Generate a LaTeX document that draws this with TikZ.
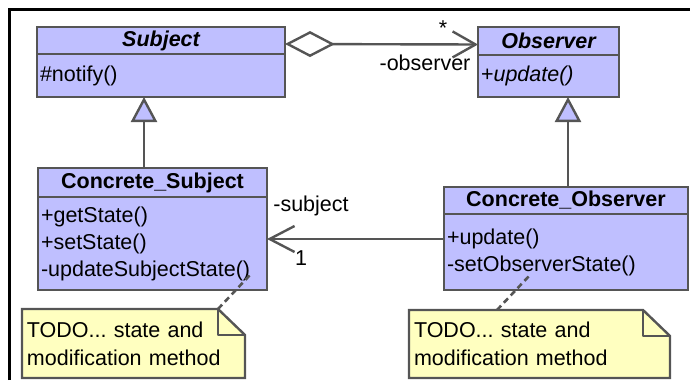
\documentclass[tikz,border=0pt]{standalone}
\usepackage{fontspec}
\setmainfont{Liberation Sans}
\usepackage{xcolor}
\usetikzlibrary{arrows.meta, positioning, backgrounds}
\definecolor{UML_Blue}{HTML}{BFBFFF}
\definecolor{UML_Note}{HTML}{FFFFC0}
\definecolor{UML_Line}{HTML}{555555}
\frenchspacing

\begin{document}
\begin{tikzpicture}[
    x=1pt, y=-1pt,
    umlfont/.style={font=\fontsize{21.5}{27}\selectfont},
    classhead/.style={draw=UML_Line, fill=UML_Blue, line width=2.4pt, inner sep=0pt, outer sep=0pt, anchor=north west, font=\fontsize{21.5}{27}\selectfont\bfseries},
    classbody/.style={umlfont, draw=UML_Line, fill=UML_Blue, line width=2.4pt, inner xsep=3pt, inner ysep=0pt, outer sep=0pt, anchor=north west, align=left},
    notebox/.style={font=\fontsize{21.5}{28}\selectfont, inner xsep=5pt, inner ysep=0pt, outer sep=0pt, anchor=north west, align=left},
    notelink/.style={draw=UML_Line, line width=2.6pt, dash pattern=on 6pt off 4pt},
    umlline/.style={draw=UML_Line, line width=2.4pt},
    inherit/.style={umlline, -{Triangle[length=25pt, width=26pt, fill=UML_Blue]}},
    lbl/.style={umlfont, inner sep=0pt}
]
\useasboundingbox (0,0) rectangle (690,380);
\draw[line width=3pt] (9.5,380) |- (690,9.5);

% classes
\node[classhead, minimum width=248, minimum height=27] (subj) at (37,27) {\itshape Subject};
\node[classbody, text width=242, minimum height=43] (subjbody) at (subj.south west) {\#notify()};

\node[classhead, minimum width=141, minimum height=28] (obs) at (478,27) {\itshape Observer};
\node[classbody, text width=135, minimum height=42] (obsbody) at (obs.south west) {+\textit{update()}};

\node[classhead, minimum width=229, minimum height=29] (csubj) at (38,168) {Concrete\_Subject};
\node[classbody, text width=223, minimum height=93] (csubjbody) at (csubj.south west) {+getState()\\+setState()\\-updateSubjectState()};

\node[classhead, minimum width=244, minimum height=27] (cobs) at (444,187) {Concrete\_Observer};
\node[classbody, text width=238, minimum height=76] (cobsbody) at (cobs.south west) {+update()\\-setObserverState()};

% relations
\draw[umlline, {Diamond[open, length=50pt, width=26pt]}-{Straight Barb[length=23pt, width=26pt]}]
    ([yshift=-3.5pt]subj.east) -- ([yshift=-3.5pt]obs.west);
\node[lbl, anchor=north] (mult1) at (443,21) {*};
\node[lbl] (role1) at (425,63) {-observer};

\draw[inherit] (csubj.north -| 144,0) -- (subjbody.south -| 144,0);
\draw[inherit] (cobs.north -| 568,0) -- (obsbody.south -| 568,0);

\draw[umlline, -{Straight Barb[length=25pt, width=26pt]}] (cobsbody.west |- 0,239) -- (csubjbody.east |- 0,239);
\node[lbl] (role2) at (311,206) {-subject};
\node[lbl] (mult2) at (301,258) {1};

% notes
\node[notebox, minimum width=223, minimum height=69, text width=213] (note1) at (22,309) {TODO... state and\\modification method};
\node[notebox, minimum width=261, minimum height=68, text width=251] (note2) at (409,310) {TODO... state and\\modification method};
\begin{scope}[on background layer]
\foreach \n in {note1, note2} {
  \draw[umlline, fill=UML_Note] (\n.north west) -- ([xshift=-27pt]\n.north east) -- ([yshift=-26pt]\n.north east)
      -- (\n.south east) -- (\n.south west) -- cycle;
  \draw[umlline, line join=round] ([xshift=-27pt]\n.north east) |- ([yshift=-26pt]\n.north east);
}
\end{scope}
\coordinate (m1) at (250,275);
\coordinate (m2) at (530,275);
\draw[notelink] (note1.north -| 218,0) -- (m1);
\draw[notelink] (note2.north -| 497,0) -- (m2);
\end{tikzpicture}
\end{document}
